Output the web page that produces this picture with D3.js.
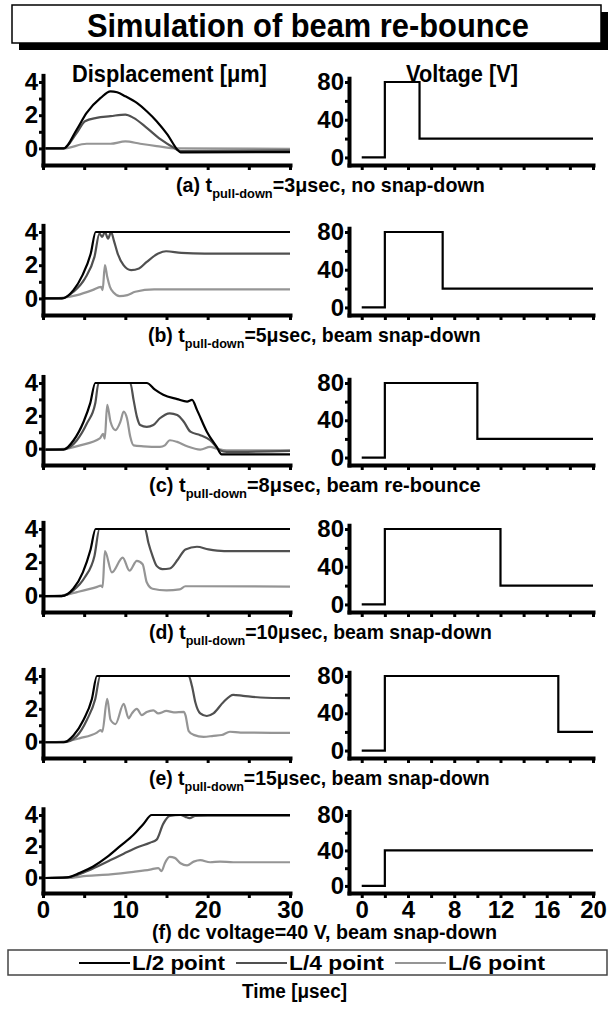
<!DOCTYPE html>
<html><head><meta charset="utf-8">
<script src="https://cdn.jsdelivr.net/npm/d3@7"></script>
<style>
body{margin:0;background:#fff}
text{font-family:"Liberation Sans",Arial,sans-serif;font-weight:bold;fill:#000}
</style>
</head><body>
<svg id="c" width="608" height="1010"></svg>
<script>
// ---------------- DATA ----------------
const panelIds = ["a","b","c","d","e","f"];
const seriesNames = ["L/2 point","L/4 point","L/6 point"];
const seriesColors = ["#000000","#505050","#959595"];

const captionMain = ["(a) t","(b) t","(c) t","(d) t","(e) t","(f) dc voltage=40 V, beam snap-down"];
const captionSub  = ["pull-down","pull-down","pull-down","pull-down","pull-down",""];
const captionTail = ["=3μsec, no snap-down","=5μsec, beam snap-down","=8μsec, beam re-bounce","=10μsec, beam snap-down","=15μsec, beam snap-down",""];

const dispTicks = [0,2,4], dispMinor = [1,3];
const voltTicks = [0,40,80], voltMinor = [20,60];
const timeTicksL = [0,5,10,15,20,25,30];
const timeTicksR = [0,2,4,6,8,10,12,14,16,18,20];

// displacement [um] vs time [usec]
const a_L2 = [[0.3,0],[2.5,0],[4.1,1.14],[5.3,2.14],[7.0,3.04],[8.2,3.44],[9.0,3.38],[10.0,3.14],[11.4,2.74],[12.6,2.24],[13.8,1.64],[15.1,0.84],[16.3,-0.06],[16.7,-0.24],[30,-0.22]];
const a_L4 = [[0.3,0],[2.5,0],[4.1,0.94],[5.1,1.64],[6.5,1.84],[8.2,1.94],[10.0,2.04],[11.0,1.84],[12.6,1.24],[14.3,0.54],[15.9,0.04],[16.7,-0.16],[30,-0.12]];
const a_L6 = [[0.3,0],[2.5,0],[5.3,0.28],[8.2,0.28],[10.0,0.42],[11.8,0.28],[13.8,0.14],[16.3,0],[30,-0.02]];

const b_L2 = [[0.2,0],[2.3,0],[3.7,0.5],[4.8,1.4],[5.8,2.7],[6.4,4.0],[30,4.0]];
const b_L4 = [[0.2,0],[2.3,0],[3.7,0.4],[5.1,1.2],[6.25,2.5],[6.86,3.9],[7.19,3.7],[7.52,4.0],[7.9,3.6],[8.27,4.0],[8.6,3.5],[9.07,2.7],[9.78,2.0],[10.7,1.7],[11.66,1.8],[12.6,2.2],[14.0,2.7],[14.95,2.84],[16.8,2.74],[19.65,2.7],[30,2.7]];
const b_L6 = [[0.2,0],[2.3,0.04],[4.14,0.2],[6.0,0.5],[7.05,0.7],[7.24,0.5],[7.52,2.0],[7.8,1.3],[8.13,0.7],[8.6,0.34],[9.3,0.14],[10.25,0.2],[11.2,0.4],[13.5,0.54],[30,0.54]];

const c_L2 = [[0.3,-0.06],[2.5,-0.06],[3.72,0.51],[4.93,1.64],[5.74,2.77],[6.35,4.0],[12.6,4.0],[13.6,3.59],[14.6,3.28],[16.3,3.02],[17.5,2.87],[18.1,2.97],[18.7,2.36],[19.9,1.03],[21.1,0.1],[21.7,-0.35],[30,-0.35]];
const c_L4 = [[0.3,-0.06],[2.5,-0.04],[4.12,0.51],[5.34,1.54],[6.35,2.77],[6.75,4.0],[10.6,4.0],[11.0,2.97],[11.4,1.95],[11.8,1.44],[12.6,1.33],[13.4,1.44],[14.2,1.85],[15.4,2.15],[16.3,2.05],[17.1,1.64],[17.9,1.03],[19.1,0.82],[20.3,0.51],[21.5,-0.1],[22.3,-0.2],[30,-0.14]];
const c_L6 = [[0.3,-0.06],[2.5,-0.02],[4.5,0.2],[6.9,0.62],[7.3,0.9],[7.5,0.6],[7.8,2.67],[8.2,1.64],[8.8,1.13],[9.4,1.64],[9.8,2.26],[10.2,1.85],[10.6,0.72],[11.0,0.2],[12.2,0.14],[14.2,0.1],[14.8,0.2],[15.4,0.51],[16.3,0.41],[17.5,0.14],[19.1,-0.06],[20.3,0.1],[21.1,0],[22.3,-0.1],[30,-0.1]];

const d_L2 = [[0.15,-0.04],[2.26,-0.04],[3.67,0.4],[4.84,1.39],[5.78,2.77],[6.39,4.0],[30,4.0]];
const d_L4 = [[0.15,-0.04],[2.26,-0.04],[3.67,0.3],[5.08,1.09],[6.25,2.38],[6.86,4.0],[12.4,4.0],[12.8,3.17],[13.3,2.38],[13.8,1.78],[14.5,1.58],[15.4,1.62],[16.4,2.18],[17.3,2.77],[18.7,2.93],[20.1,2.77],[22.0,2.67],[30,2.67]];
const d_L6 = [[0.15,-0.04],[2.26,0],[4.14,0.2],[6.49,0.5],[7.05,0.59],[7.24,0.5],[7.52,2.67],[8.37,1.39],[9.68,2.28],[10.5,1.49],[11.4,2.08],[12.1,1.88],[12.6,0.79],[13.3,0.4],[15.0,0.3],[16.6,0.36],[17.3,0.55],[18.2,0.55],[30,0.53]];

const e_L2 = [[0.28,-0.04],[2.5,-0.04],[3.72,0.39],[4.93,1.33],[5.94,2.6],[6.55,4.0],[30,4.0]];
const e_L4 = [[0.28,-0.04],[2.5,-0.04],[4.12,0.35],[5.34,1.33],[6.35,2.6],[6.95,4.0],[17.7,4.0],[18.1,3.37],[18.5,2.4],[19.1,1.72],[19.9,1.56],[20.7,1.72],[21.9,2.4],[23.1,2.85],[24.3,2.79],[26.4,2.69],[30,2.65]];
const e_L6 = [[0.28,-0.04],[2.5,0],[4.5,0.21],[6.55,0.55],[7.0,0.7],[7.2,0.6],[7.8,2.6],[8.2,1.33],[8.8,1.07],[9.8,2.3],[10.4,1.42],[10.8,1.72],[11.4,2.0],[12.0,1.62],[12.6,1.81],[13.4,1.91],[14.0,1.72],[15.0,1.87],[15.9,1.78],[17.1,1.81],[17.3,1.62],[17.7,0.64],[18.3,0.41],[19.5,0.29],[20.7,0.35],[21.7,0.4],[22.7,0.6],[24.0,0.55],[30,0.53]];

const f_L2 = [[0.28,-0.04],[2.9,0],[4.5,0.3],[6.1,0.7],[7.8,1.31],[9.4,2.02],[11.0,2.73],[12.2,3.43],[13.2,4.0],[30,4.0]];
const f_L4 = [[0.28,-0.04],[2.9,0],[4.9,0.3],[6.6,0.7],[8.2,1.11],[9.8,1.52],[11.4,1.92],[13.0,2.22],[13.8,2.42],[14.6,3.43],[15.4,3.94],[16.7,4.0],[17.3,3.88],[17.8,3.8],[18.5,3.94],[20.0,3.96],[30,3.96]];
const f_L6 = [[0.28,-0.04],[2.9,-0.04],[5.3,0.1],[8.2,0.2],[11.0,0.36],[13.0,0.5],[14.0,0.6],[14.4,0.4],[14.8,0.91],[15.4,1.31],[16.0,1.25],[16.7,0.91],[17.5,0.77],[18.3,1.01],[19.1,1.11],[20.3,0.97],[21.5,1.01],[23.1,0.97],[30,0.97]];

// voltage [V] vs time [usec]
const a_V = [[0,0],[2,0],[2,80],[5,80],[5,20],[20,20]];
const b_V = [[0,0],[2,0],[2,80],[7,80],[7,20],[20,20]];
const c_V = [[0,0],[2,0],[2,80],[10,80],[10,20],[20,20]];
const d_V = [[0,0],[2,0],[2,80],[12,80],[12,20],[20,20]];
const e_V = [[0,0],[2,0],[2,80],[17,80],[17,20],[20,20]];
const f_V = [[0,0],[2,0],[2,40],[20,40]];

const dispData = [[a_L2,a_L4,a_L6],[b_L2,b_L4,b_L6],[c_L2,c_L4,c_L6],[d_L2,d_L4,d_L6],[e_L2,e_L4,e_L6],[f_L2,f_L4,f_L6]];
const voltData = [a_V,b_V,c_V,d_V,e_V,f_V];

// ---------------- LAYOUT ----------------
const rowTop  = [82,232,383,529,676,815];   // y of value 4 / 80 V
const rowAxis = [165,315,465,612,758,893];  // x-axis line
const capX0 = [176,148,149,149,149,152], capX1 = [485,481,481,492,490,497];
const capBase = [192,342,492,639,785,939];

const svg = d3.select("#c");
const xL = d3.scaleLinear().domain([0,30]).range([43,290]);
const xR = d3.scaleLinear().domain([-1.1,20]).range([349,593]);

function fitX(sel, x0, x1, y){
  const w = sel.node().getBBox().width;
  sel.attr("transform", `translate(${x0},${y}) scale(${(x1-x0)/w},1)`);
}

// title box
svg.append("rect").attr("x",19).attr("y",12).attr("width",589).attr("height",38).attr("fill","#000");
svg.append("rect").attr("x",12).attr("y",5).attr("width",589).attr("height",38).attr("fill","#fff").attr("stroke","#000").attr("stroke-width",1.5);
fitX(svg.append("text").attr("font-size",33).text("Simulation of beam re-bounce"), 87, 529, 37);

fitX(svg.append("text").attr("font-size",23).text("Displacement [μm]"), 72, 267, 82);
fitX(svg.append("text").attr("font-size",23).text("Voltage [V]"), 406, 518, 82);

function styleAxis(g, lw){
  g.select(".domain").attr("stroke","#000").attr("stroke-width",lw).attr("stroke-linecap","square");
  g.selectAll(".tick line").attr("stroke","#000").attr("stroke-width",3);
  g.selectAll(".tick text").attr("font-size",24).attr("font-family",'"Liberation Sans",Arial,sans-serif').attr("font-weight","bold").attr("fill","#000");
}
const fmt = d3.format("d");

panelIds.forEach((id,i)=>{
  const T = rowTop[i], B = rowAxis[i];
  const u = (B-T)/5;
  const yL = d3.scaleLinear().domain([-1,4.4]).range([B, B-5.4*u]);
  const uv = (B-T)/88;
  const yR = d3.scaleLinear().domain([-8,84]).range([B, B-92*uv]);
  const last = i===5;

  // displacement curves
  const line = d3.line().x(d=>xL(d[0])).y(d=>yL(d[1])).curve(d3.curveMonotoneX);
  [2,1,0].forEach(s=>{
    svg.append("path").datum(dispData[i][s]).attr("d",line)
      .attr("fill","none").attr("stroke",seriesColors[s]).attr("stroke-width",2.2).attr("stroke-linejoin","round");
  });
  // voltage
  const vline = d3.line().x(d=>xR(d[0])).y(d=>yR(d[1]));
  svg.append("path").datum(voltData[i]).attr("d",vline)
    .attr("fill","none").attr("stroke","#000").attr("stroke-width",2.2);

  // left axes
  const gyl = svg.append("g").attr("transform",`translate(${xL(0)},0)`)
    .call(d3.axisLeft(yL).tickValues(dispTicks).tickFormat(fmt).tickSize(4).tickSizeOuter(0).tickPadding(1));
  styleAxis(gyl,4);
  const gylm = svg.append("g").attr("transform",`translate(${xL(0)},0)`)
    .call(d3.axisLeft(yL).tickValues(dispMinor).tickSize(4).tickFormat(""));
  gylm.select(".domain").remove(); gylm.selectAll(".tick line").attr("stroke","#000").attr("stroke-width",3);
  const gxl = svg.append("g").attr("transform",`translate(0,${B})`)
    .call(d3.axisBottom(xL).tickValues(timeTicksL).tickSize(5).tickSizeOuter(0).tickPadding(3)
      .tickFormat(d=> last && d%10===0 ? fmt(d) : ""));
  styleAxis(gxl,4);

  // right axes
  const gyr = svg.append("g").attr("transform",`translate(${xR.range()[0]},0)`)
    .call(d3.axisLeft(yR).tickValues(voltTicks).tickFormat(fmt).tickSize(4).tickSizeOuter(0).tickPadding(1));
  styleAxis(gyr,4);
  const gyrm = svg.append("g").attr("transform",`translate(${xR.range()[0]},0)`)
    .call(d3.axisLeft(yR).tickValues(voltMinor).tickSize(4).tickFormat(""));
  gyrm.select(".domain").remove(); gyrm.selectAll(".tick line").attr("stroke","#000").attr("stroke-width",3);
  const gxr = svg.append("g").attr("transform",`translate(0,${B})`)
    .call(d3.axisBottom(xR).tickValues(timeTicksR).tickSize(5).tickSizeOuter(0).tickPadding(3)
      .tickFormat(d=> last && d%4===0 ? fmt(d) : ""));
  styleAxis(gxr,4);

  // caption
  const cap = svg.append("text").attr("font-size",20);
  cap.append("tspan").text(captionMain[i]);
  if (captionSub[i]) {
    cap.append("tspan").attr("font-size",13).attr("dy",6).text(captionSub[i]);
    cap.append("tspan").attr("dy",-6).text(captionTail[i]);
  }
  fitX(cap, capX0[i], capX1[i], capBase[i]);
});

// legend
svg.append("rect").attr("x",8).attr("y",950).attr("width",599).attr("height",25)
  .attr("fill","#fff").attr("stroke","#444").attr("stroke-width",1.5);
const legLine = [[79,130],[236,287],[395,446]];
const legText = [[132,225],[289,384],[448,545]];
seriesNames.forEach((n,s)=>{
  svg.append("line").attr("x1",legLine[s][0]).attr("x2",legLine[s][1]).attr("y1",963).attr("y2",963)
    .attr("stroke",seriesColors[s]).attr("stroke-width",2.2);
  fitX(svg.append("text").attr("font-size",21).text(n), legText[s][0], legText[s][1], 970);
});
fitX(svg.append("text").attr("font-size",21).text("Time  [μsec]"), 242, 347, 998);
</script>
</body></html>
